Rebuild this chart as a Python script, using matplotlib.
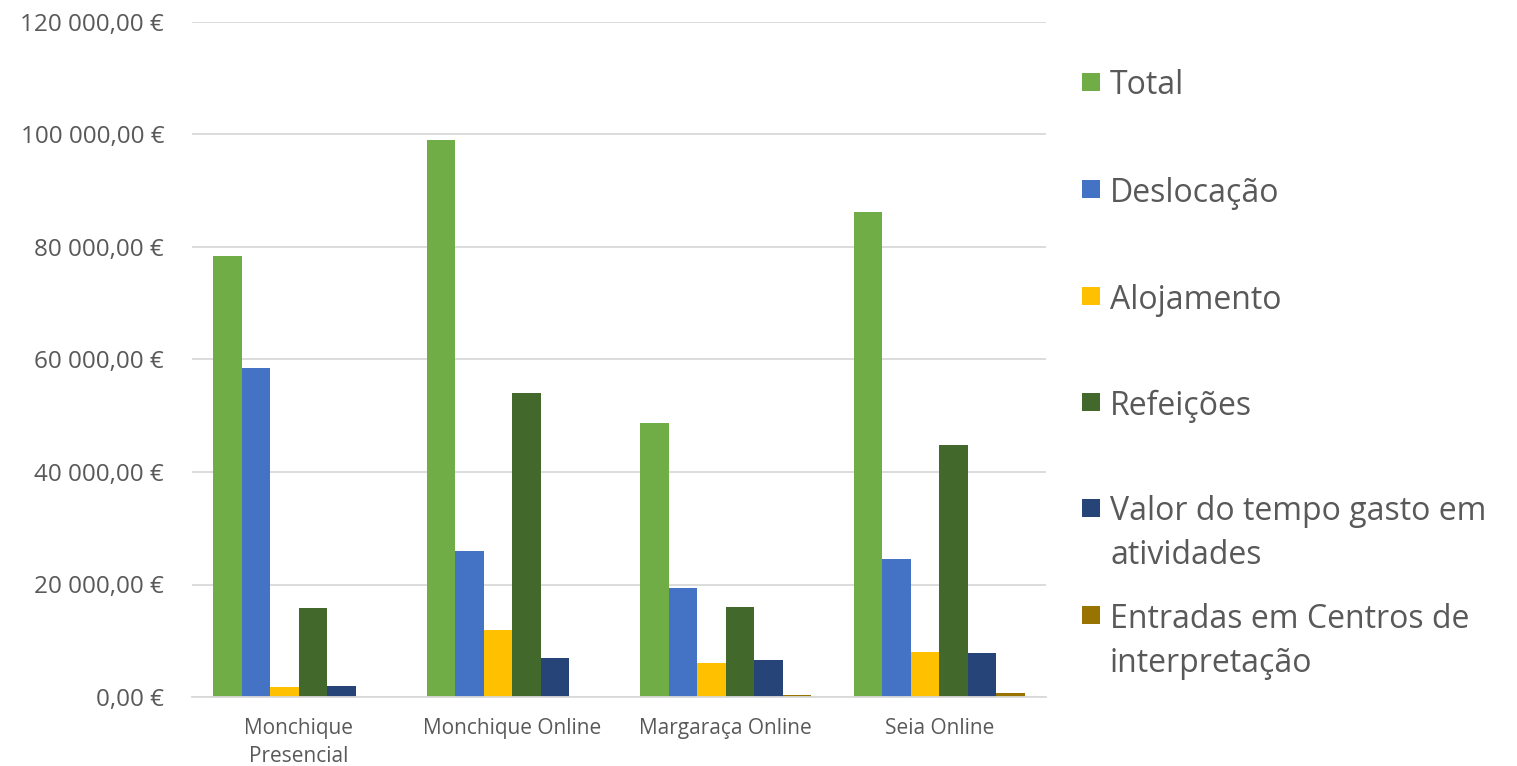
import matplotlib
matplotlib.use("Agg")
import matplotlib.pyplot as plt
from matplotlib.patches import Rectangle
from matplotlib.ticker import FuncFormatter
import numpy as np

plt.rcParams['font.family'] = ['Open Sans', 'DejaVu Sans']

categories = ["Monchique\nPresencial", "Monchique Online", "Margaraça Online", "Seia Online"]
series_names = ["Total", "Deslocação", "Alojamento", "Refeições",
                "Valor do tempo gasto em\natividades", "Entradas em Centros de\ninterpretação"]
total = [78400, 99000, 48700, 86200]
deslocacao = [58500, 26000, 19300, 24500]
alojamento = [1700, 11900, 6000, 8000]
refeicoes = [15800, 54000, 16000, 44800]
valor_tempo = [1950, 6900, 6600, 7800]
entradas = [0, 0, 400, 700]
colors = ["#70AD47", "#4472C4", "#FFC000", "#43682B", "#264478", "#997300"]

series = [total, deslocacao, alojamento, refeicoes, valor_tempo, entradas]

W, H = 1517, 766
fig = plt.figure(figsize=(W / 100, H / 100), dpi=100)
ax = fig.add_axes([192 / W, (H - 697) / H, 854 / W, 675 / H])

x = np.arange(len(categories))
n = len(series)
bw = 0.8 / n
for i, (vals, c) in enumerate(zip(series, colors)):
    ax.bar(x - 0.4 + bw * (i + 0.5), vals, width=bw, color=c, edgecolor='none', zorder=3)

ax.set_xlim(-0.5, len(categories) - 0.5)
ax.set_ylim(0, 120000)
ax.set_yticks(np.arange(0, 120001, 20000))

def fmt(v, pos):
    s = f"{v:,.2f}".replace(",", " ").replace(".", ",")
    return s + " €"

ax.yaxis.set_major_formatter(FuncFormatter(fmt))
ax.grid(axis='y', color='#d9d9d9', linewidth=1.3, zorder=0)
for s in ['top', 'right', 'left']:
    ax.spines[s].set_visible(False)
ax.spines['bottom'].set_color('#d9d9d9')
ax.spines['bottom'].set_linewidth(1.3)
ax.spines['bottom'].set_zorder(4)
ax.tick_params(axis='both', length=0, colors='#595959')
ax.tick_params(axis='y', labelsize=17.5, pad=20)
ax.tick_params(axis='x', labelsize=15, pad=15)
ax.set_xticks(x)
ax.set_xticklabels(categories, linespacing=1.45)

# legend, drawn manually
leg_y = [82, 189, 296, 402, 508, 615]
line_gap = 44
for name, c, yy in zip(series_names, colors, leg_y):
    fig.patches.append(Rectangle(((1082) / W, (H - yy - 9) / H), 18 / W, 18 / H,
                                 transform=fig.transFigure, facecolor=c, edgecolor='none'))
    for k, line in enumerate(name.split("\n")):
        fig.text(1110 / W, (H - yy - k * line_gap) / H, line, fontsize=23, color='#595959',
                 va='center_baseline', ha='left', transform=fig.transFigure)

fig.savefig("out.png", dpi=100)
